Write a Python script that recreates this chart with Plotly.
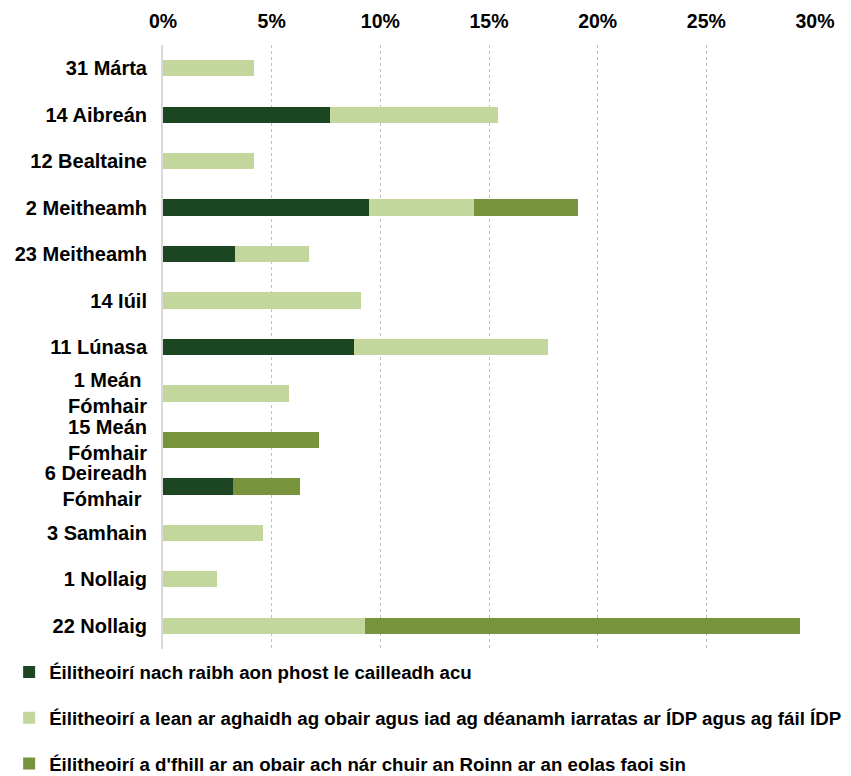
import plotly.graph_objects as go

categories = ["31 Márta", "14 Aibreán", "12 Bealtaine", "2 Meitheamh", "23 Meitheamh",
              "14 Iúil", "11 Lúnasa", "1 Meán Fómhair", "15 Meán Fómhair",
              "6 Deireadh Fómhair", "3 Samhain", "1 Nollaig", "22 Nollaig"]
tick_labels = ["31 Márta", "14 Aibreán", "12 Bealtaine", "2 Meitheamh", "23 Meitheamh",
               "14 Iúil", "11 Lúnasa", "1 Meán\u00a0<br>Fómhair", "15 Meán<br>Fómhair",
               "6 Deireadh<br>Fómhair\u00a0", "3 Samhain", "1 Nollaig", "22 Nollaig"]

series_names = [
    "Éilitheoirí nach raibh aon phost le cailleadh acu",
    "Éilitheoirí a lean ar aghaidh ag obair agus iad ag déanamh iarratas ar ÍDP agus ag fáil ÍDP",
    "Éilitheoirí a d'fhill ar an obair ach nár chuir an Roinn ar an eolas faoi sin",
]
no_job = [0, 7.7, 0, 9.5, 3.3, 0, 8.8, 0, 0, 3.2, 0, 0, 0]
continued = [4.2, 7.7, 4.2, 4.8, 3.4, 9.1, 8.9, 5.8, 0, 0, 4.6, 2.5, 9.3]
returned = [0, 0, 0, 4.8, 0, 0, 0, 0, 7.2, 3.1, 0, 0, 20.0]

x_ticks = [0, 5, 10, 15, 20, 25, 30]
x_tick_labels = ["0%", "5%", "10%", "15%", "20%", "25%", "30%"]

colors = ["#1b4621", "#c3d69b", "#77933c"]
FONT = "Liberation Sans, Arial, sans-serif"

fig = go.Figure()
for i, (name, vals) in enumerate(zip(series_names, [no_job, continued, returned])):
    fig.add_trace(go.Bar(
        y=categories, x=vals, name=name, orientation="h",
        marker=dict(color=colors[i], line=dict(width=0)),
        legendgroup=f"g{i}",
    ))

fig.update_layout(
    width=851, height=776,
    barmode="stack", bargap=0.65,
    plot_bgcolor="white", paper_bgcolor="white",
    margin=dict(l=163, r=36, t=45, b=127, autoexpand=False),
    font=dict(family=FONT, color="black"),
    showlegend=True,
    legend=dict(
        orientation="v", x=-0.236, xanchor="left", y=-0.007, yanchor="top",
        font=dict(family=FONT, size=18.7, color="black", weight="bold"),
        tracegroupgap=18.5, itemwidth=30, traceorder="grouped",
        bgcolor="rgba(0,0,0,0)",
    ),
    xaxis=dict(
        side="top", range=[0, 30], tickvals=x_ticks, ticktext=x_tick_labels,
        showgrid=True, gridcolor="#bfbfbf", griddash="dot", gridwidth=1,
        zeroline=False, showline=False, ticks="", automargin=False,
        tickfont=dict(family=FONT, size=19.5, color="black", weight="bold"),
        ticklabelstandoff=12, fixedrange=True,
    ),
    yaxis=dict(
        categoryorder="array", categoryarray=categories, autorange="reversed",
        tickvals=categories, ticktext=tick_labels, automargin=False,
        showline=True, linecolor="#d9d9d9", linewidth=2,
        showgrid=False, zeroline=False, ticks="",
        tickfont=dict(family=FONT, size=20, color="black", weight="bold"),
        ticklabelstandoff=10,
    ),
)

fig.write_html("out.html", config={"displayModeBar": False},
               post_script="document.body.style.margin='0';")
